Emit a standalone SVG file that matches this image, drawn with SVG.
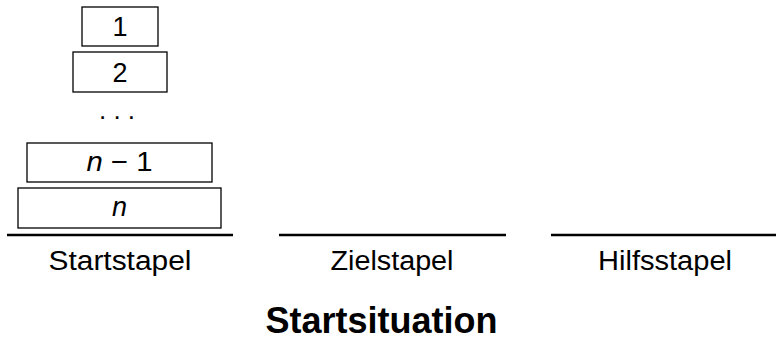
<svg xmlns="http://www.w3.org/2000/svg" width="776" height="346" viewBox="0 0 776 346">
<style>
.disk{fill:#fff;stroke:#000;stroke-width:1.3}
.base{stroke:#000;stroke-width:2.6}
.t{font-family:"Liberation Sans",Arial,sans-serif;font-size:27px;fill:#000;text-anchor:middle}
.lbl{font-family:"Liberation Sans",Arial,sans-serif;font-size:27px;fill:#000;text-anchor:middle}
.dots{font-family:"Liberation Sans",Arial,sans-serif;font-size:26px;fill:#000;text-anchor:middle}
.it{font-style:italic}
.title{font-family:"Liberation Sans",Arial,sans-serif;font-size:36px;font-weight:bold;fill:#000;text-anchor:middle}
</style>
<rect width="776" height="346" fill="#fff"/>
<g id="disk1"><rect class="disk" x="82" y="7" width="76" height="39"/><text class="t" x="120" y="36">1</text></g>
<g id="disk2"><rect class="disk" x="73" y="52" width="94" height="40"/><text class="t" x="120" y="82">2</text></g>
<g id="dots"><text class="dots" x="117" y="119">. . .</text></g>
<g id="diskn1"><rect class="disk" x="27" y="143" width="185" height="39"/><text class="t" x="119.5" y="171" textLength="66" lengthAdjust="spacingAndGlyphs"><tspan class="it">n</tspan> − 1</text></g>
<g id="diskn"><rect class="disk" x="18" y="188" width="203" height="40"/><text class="t it" x="119.5" y="216">n</text></g>
<g id="pegs">
<line class="base" x1="7" y1="235" x2="233" y2="235"/>
<line class="base" x1="279" y1="235" x2="506" y2="235"/>
<line class="base" x1="551" y1="235" x2="777" y2="235"/>
</g>
<g id="labels">
<text class="lbl" x="120" y="270" textLength="143" lengthAdjust="spacingAndGlyphs">Startstapel</text>
<text class="lbl" x="392" y="270" textLength="123" lengthAdjust="spacingAndGlyphs">Zielstapel</text>
<text class="lbl" x="665" y="270" textLength="134" lengthAdjust="spacingAndGlyphs">Hilfsstapel</text>
</g>
<g id="title"><text class="title" x="381.5" y="333">Startsituation</text></g>
</svg>
